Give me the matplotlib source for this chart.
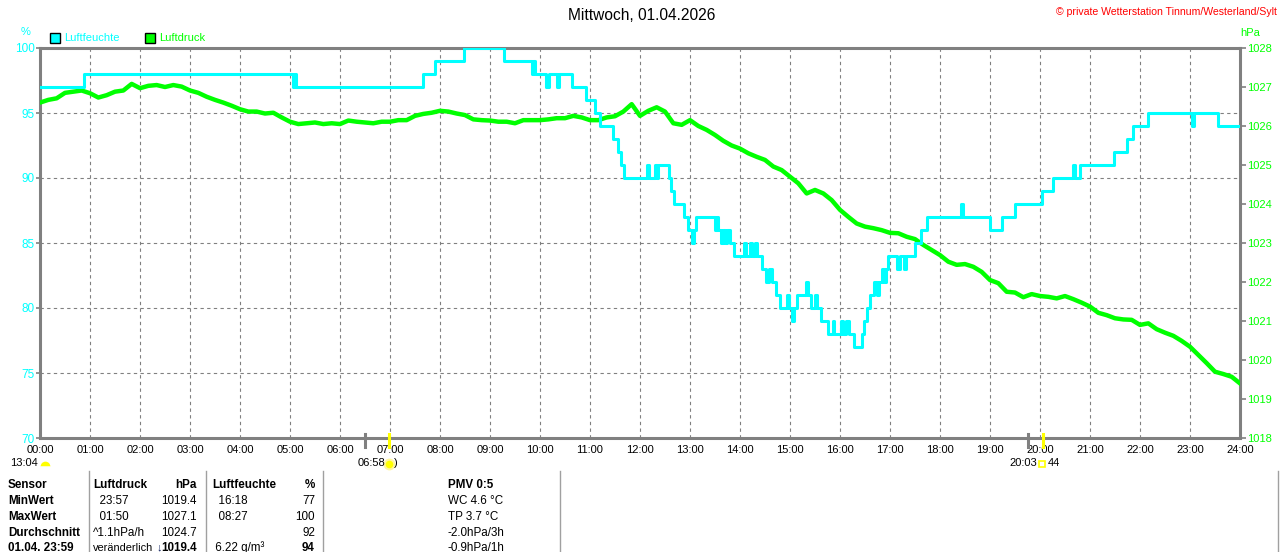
import numpy as np
import matplotlib
matplotlib.use("Agg")
import matplotlib.pyplot as plt
from matplotlib.markers import MarkerStyle
from matplotlib.patches import Rectangle

plt.rcParams['font.family'] = ['Liberation Sans', 'DejaVu Sans']

# humidity (%), step curve: value starts at given hour
hum_time = [0.00, 0.88, 5.05, 5.08, 5.11, 7.65, 7.90, 8.47, 9.27, 9.83, 9.86, 9.89,
            10.12, 10.18, 10.33, 10.38, 10.63, 10.92, 11.10, 11.20, 11.45, 11.55, 11.62, 11.68,
            12.13, 12.18, 12.30, 12.33, 12.36, 12.57, 12.62, 12.68, 12.88, 12.95, 13.03, 13.07,
            13.12, 13.50, 13.53, 13.56, 13.62, 13.65, 13.70, 13.73, 13.80, 13.88, 14.08, 14.11,
            14.20, 14.23, 14.30, 14.33, 14.43, 14.52, 14.58, 14.63, 14.72, 14.80, 14.93, 14.97,
            15.03, 15.08, 15.14, 15.32, 15.36, 15.42, 15.50, 15.54, 15.62, 15.76, 15.85, 15.88,
            16.02, 16.06, 16.12, 16.17, 16.28, 16.43, 16.48, 16.53, 16.60, 16.68, 16.74, 16.78,
            16.84, 16.88, 16.92, 16.96, 17.15, 17.20, 17.28, 17.33, 17.50, 17.62, 17.74, 18.41,
            18.45, 19.00, 19.23, 19.50, 20.04, 20.26, 20.65, 20.70, 20.80, 21.47, 21.73, 21.86,
            22.15, 23.03, 23.07, 23.56, 24.00]
hum_value = [97, 98, 97, 98, 97, 98, 99, 100, 99, 98, 99, 98,
             97, 98, 97, 98, 97, 96, 95, 94, 93, 92, 91, 90,
             91, 90, 91, 90, 91, 90, 89, 88, 87, 86, 85, 86,
             87, 86, 87, 86, 85, 86, 85, 86, 85, 84, 85, 84,
             85, 84, 85, 84, 83, 82, 83, 82, 81, 80, 81, 80,
             79, 80, 81, 82, 81, 80, 81, 80, 79, 78, 79, 78,
             79, 78, 79, 78, 77, 78, 79, 80, 81, 82, 81, 82,
             83, 82, 83, 84, 83, 84, 83, 84, 85, 86, 87, 88,
             87, 86, 87, 88, 89, 90, 91, 90, 91, 92, 93, 94,
             95, 94, 95, 94, 94]

# air pressure (hPa), one reading every 10 minutes from 00:00 to 24:00
pres_value = [1026.60, 1026.67, 1026.71, 1026.85, 1026.88, 1026.91,
              1026.84, 1026.73, 1026.79, 1026.88, 1026.91, 1027.08,
              1026.97, 1027.03, 1027.05, 1027.00, 1027.05, 1027.01,
              1026.91, 1026.85, 1026.75, 1026.67, 1026.60, 1026.52,
              1026.43, 1026.37, 1026.37, 1026.32, 1026.34, 1026.22,
              1026.11, 1026.05, 1026.07, 1026.09, 1026.05, 1026.07,
              1026.05, 1026.14, 1026.11, 1026.09, 1026.07, 1026.11,
              1026.11, 1026.15, 1026.15, 1026.26, 1026.31, 1026.34,
              1026.39, 1026.37, 1026.32, 1026.28, 1026.17, 1026.15,
              1026.14, 1026.11, 1026.11, 1026.07, 1026.15, 1026.15,
              1026.15, 1026.17, 1026.20, 1026.20, 1026.26, 1026.22,
              1026.15, 1026.15, 1026.22, 1026.25, 1026.37, 1026.56,
              1026.26, 1026.39, 1026.48, 1026.37, 1026.07, 1026.03,
              1026.15, 1026.00, 1025.90, 1025.77, 1025.62, 1025.50,
              1025.42, 1025.30, 1025.21, 1025.13, 1024.96, 1024.87,
              1024.70, 1024.53, 1024.27, 1024.36, 1024.27, 1024.10,
              1023.85, 1023.67, 1023.50, 1023.42, 1023.38, 1023.33,
              1023.26, 1023.25, 1023.16, 1023.10, 1022.95, 1022.82,
              1022.69, 1022.52, 1022.44, 1022.46, 1022.39, 1022.26,
              1022.05, 1021.97, 1021.75, 1021.73, 1021.61, 1021.69,
              1021.64, 1021.62, 1021.58, 1021.64, 1021.56, 1021.47,
              1021.37, 1021.21, 1021.15, 1021.07, 1021.04, 1021.03,
              1020.90, 1020.94, 1020.79, 1020.70, 1020.62, 1020.49,
              1020.34, 1020.13, 1019.92, 1019.70, 1019.64, 1019.57,
              1019.40]
pres_time = np.arange(len(pres_value)) * 10 / 60.0

hour_labels = ["%02d:00" % h for h in range(25)]

table_rows = [
    ["Sensor", "Luftdruck", "hPa", "Luftfeuchte", "%", "PMV 0:5"],
    ["MinWert", "  23:57", "1019.4", "  16:18", "77", "WC 4.6 °C"],
    ["MaxWert", "  01:50", "1027.1", "  08:27", "100", "TP 3.7 °C"],
    ["Durchschnitt", "^1.1hPa/h", "1024.7", "", "92", "-2.0hPa/3h"],
    ["01.04. 23:59", "veränderlich", "1019.4", " 6.22 g/m³", "94", "-0.9hPa/1h"],
]

CYAN = "#00FFFF"
GREEN = "#00FF00"
GRAY = "#808080"
W, H = 1280, 552


def fx(x):
    return x / W


def fy(y):
    return 1 - y / H


fig = plt.figure(figsize=(12.8, 5.52), dpi=100)
ax = fig.add_axes([fx(40), fy(438), fx(1240) - fx(40), fy(48) - fy(438)])
axp = ax.twinx()
ax.set_zorder(2)
ax.patch.set_visible(False)
axp.set_ylim(1018, 1028)
ax.set_autoscale_on(False)
ax.set_xlim(0, 24)
ax.set_ylim(70, 100)

ax.plot(pres_time, pres_value, color=GREEN, lw=3.2, zorder=3, transform=axp.transData)
ax.step(hum_time, hum_value, where="post", color=CYAN, lw=2.2, zorder=4)

ax.set_xticks(range(25))
ax.set_xticklabels(hour_labels)
ax.set_yticks(range(70, 101, 5))
ax.grid(True, color=GRAY, ls=(0, (3, 3)), lw=0.8)
ax.set_axisbelow(True)
ax.tick_params(axis="x", length=0, pad=5, labelsize=8, colors="black")
ax.tick_params(axis="y", length=3, width=1.2, color=GRAY, pad=1, labelsize=8.5, labelcolor=CYAN)
axp.set_yticks(range(1018, 1029))
axp.tick_params(axis="y", length=4, width=1.2, color=GRAY, pad=1, labelsize=8, labelcolor=GREEN)
for s in ax.spines.values():
    s.set_color(GRAY)
    s.set_linewidth(2.2)
for s in axp.spines.values():
    s.set_visible(False)

# sunrise / sunset marks on the time axis
xt = ax.get_xaxis_transform()
for t, c in [(6.5, GRAY), (6.97, "#FFFF00"), (19.75, GRAY), (20.05, "#FFFF00")]:
    ax.plot([t, t], [-0.024, 0.011], color=c, lw=2.2, transform=xt, clip_on=False, zorder=5)

fig.text(fx(10), fy(463), "13:04", fontsize=8, va="center")
fig.lines.append(plt.Line2D([fx(45)], [fy(466)], marker=MarkerStyle("o", fillstyle="top"),
                            markersize=7, color="#FFFF00", markerfacecoloralt="white",
                            markeredgewidth=0, transform=fig.transFigure))
fig.text(fx(385), fy(463), "06:58", fontsize=8, va="center", ha="right")
fig.lines.append(plt.Line2D([fx(389)], [fy(464)], marker="o", markersize=7, color="#FFFF00",
                            markeredgecolor="#FFF6A0", markeredgewidth=1.5, transform=fig.transFigure))
fig.text(fx(394), fy(463), ")", fontsize=8, va="center")
fig.text(fx(1037), fy(463), "20:03", fontsize=8, va="center", ha="right")
fig.lines.append(plt.Line2D([fx(1042)], [fy(464)], marker="s", markersize=5, color="#FFFF00",
                            markerfacecolor="none", markeredgewidth=1.2, transform=fig.transFigure))
fig.text(fx(1048), fy(463), "44", fontsize=8, va="center")

# header texts and legend
fig.text(fx(642), fy(15), "Mittwoch, 01.04.2026", fontsize=11.2, ha="center", va="center")
fig.text(fx(1277), fy(12), "© private Wetterstation Tinnum/Westerland/Sylt", fontsize=7.6,
         color="#FF0000", ha="right", va="center")
fig.text(fx(26), fy(32), "%", fontsize=8, color=CYAN, ha="center", va="center")
fig.text(fx(1250), fy(33), "hPa", fontsize=8, color=GREEN, ha="center", va="center")
for x0, col, name in [(50, CYAN, "Luftfeuchte"), (145, GREEN, "Luftdruck")]:
    fig.patches.append(Rectangle((fx(x0), fy(43)), fx(10), 10 / H, facecolor=col,
                                 edgecolor="black", lw=1, transform=fig.transFigure))
    fig.text(fx(x0 + 14), fy(38), name, fontsize=8, color=col, va="center")

# statistics table below the chart
for x in [88.5, 205.5, 323, 559.5, 1278]:
    fig.lines.append(plt.Line2D([fx(x), fx(x)], [fy(471), fy(553)], color="#A0A0A0", lw=1,
                                transform=fig.transFigure))
row_y = [485, 501, 517, 533, 548]
col_x = [(8, "left"), (93, "left"), (197, "right"), (212, "left"), (315, "right"), (448, "left")]
for r, row in enumerate(table_rows):
    for c, txt in enumerate(row):
        bold = r == 0 or c == 0 or (r == 4 and c in (2, 4))
        size = 7.9 if (r == 4 and c == 1) else 8.4
        fig.text(fx(col_x[c][0]), fy(row_y[r]), txt, fontsize=size, ha=col_x[c][1], va="center",
                 fontweight="bold" if bold else "normal")
fig.text(fx(159), fy(547), "↓", fontsize=8, fontweight="bold", color="#102060", ha="center", va="center")

fig.savefig("out.png", dpi=100, facecolor="white")
